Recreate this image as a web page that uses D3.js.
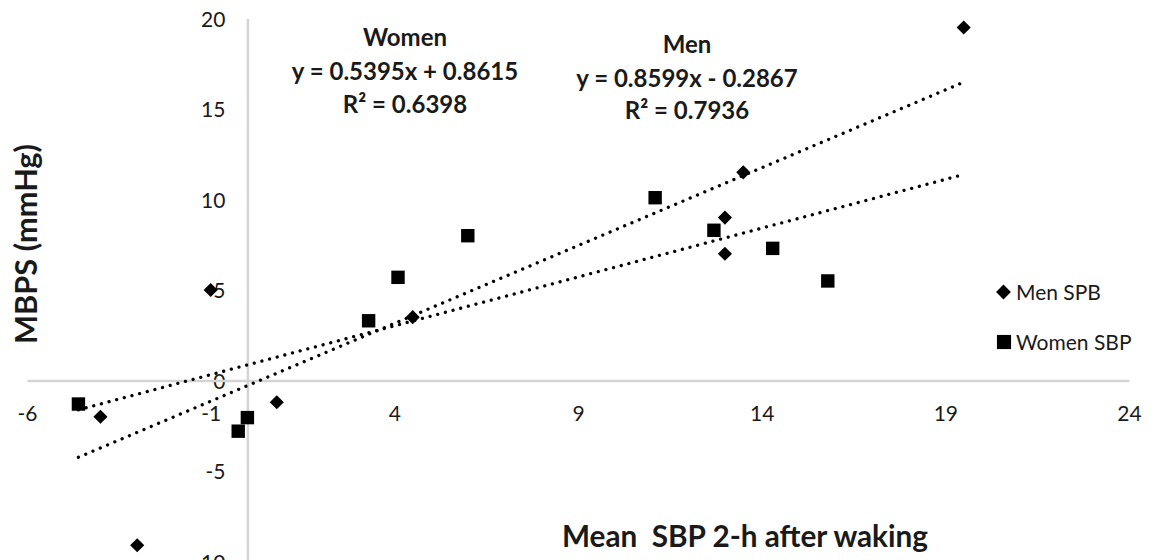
<!DOCTYPE html>
<html>
<head>
<meta charset="utf-8">
<script src="https://cdn.jsdelivr.net/npm/d3@7"></script>
<style>
  html, body { margin: 0; padding: 0; background: #fff; }
  svg { display: block; font-family: Lato, "Open Sans", sans-serif; }
</style>
</head>
<body>
<svg id="chart" width="1157" height="560"></svg>
<script>
// ---- data ----
const menX = [19.5, 13.5, 13, 13, 4.5, -1, 0.8, -4, -3];
const menY = [19.5, 11.5, 9, 7, 3.5, 5, -1.2, -2, -9.1];
const womenX = [11.1, 6, 12.7, 14.3, 15.8, 4.1, 3.3, 0, -0.25, -4.6];
const womenY = [10.1, 8, 8.3, 7.3, 5.5, 5.7, 3.3, -2.05, -2.8, -1.3];
const trendRange = [-4.6, 19.45];
const menFit = [0.8599, -0.2867];     // slope, intercept
const womenFit = [0.5395, 0.8615];
const xTicks = [-6, -1, 4, 9, 14, 19, 24];
const yTicks = [-10, -5, 0, 5, 10, 15, 20];
const seriesNames = ["Men SPB", "Women SBP"];
const womenNote = ["Women", "y = 0.5395x + 0.8615", "R² = 0.6398"];
const menNote = ["Men", "y = 0.8599x - 0.2867", "R² = 0.7936"];
const xTitle = "Mean\u00a0 SBP 2-h after waking";
const yTitle = "MBPS (mmHg)";

// ---- layout ----
const svg = d3.select("#chart");
const x = d3.scaleLinear().domain([-6, 24]).range([27, 1129]);
const y = d3.scaleLinear().domain([-10, 20]).range([561.5, 18.5]);
const axisColor = "#d4d4d4";
const textColor = "#1a1a1a";
const fmt = d => String(d);

// fit a text's font size so its rendered width matches a measured width
function fitWidth(sel, target) {
  const fs = parseFloat(sel.attr("font-size"));
  const w = sel.node().getComputedTextLength();
  if (w > 0) sel.attr("font-size", (fs * target / w).toFixed(2));
}

// axes crossing at zero
const yAxis = svg.append("g")
  .attr("transform", `translate(${x(0)},0)`)
  .call(d3.axisLeft(y).tickValues(yTicks).tickSize(0).tickPadding(22).tickFormat(fmt));
const xAxis = svg.append("g")
  .attr("transform", `translate(0,${y(0)})`)
  .call(d3.axisBottom(x).tickValues(xTicks).tickSize(0).tickFormat(fmt));
[xAxis, yAxis].forEach(g => {
  g.select(".domain").attr("stroke", axisColor).attr("stroke-width", 2.5);
  g.selectAll("text").attr("font-family", "Lato, sans-serif").attr("font-size", 21).attr("fill", textColor);
});
xAxis.selectAll("text").attr("y", 32.5).attr("dy", "0.36em");
yAxis.selectAll("text").attr("dy", "0.36em");

// markers
const diamond = d3.symbol().type(d3.symbolSquare).size(100);
const square = d3.symbol().type(d3.symbolSquare).size(180);
svg.append("g").selectAll("path").data(d3.range(menX.length)).join("path")
  .attr("d", diamond)
  .attr("transform", i => `translate(${x(menX[i])},${y(menY[i])}) rotate(45)`)
  .attr("fill", "#000");
svg.append("g").selectAll("path").data(d3.range(womenX.length)).join("path")
  .attr("d", square)
  .attr("transform", i => `translate(${x(womenX[i])},${y(womenY[i])})`)
  .attr("fill", "#000");

// trend lines (dotted)
const line = d3.line().x(d => x(d[0])).y(d => y(d[1]));
[menFit, womenFit].forEach(f => {
  svg.append("path")
    .attr("d", line(trendRange.map(v => [v, f[0] * v + f[1]])))
    .attr("fill", "none").attr("stroke", "#000")
    .attr("stroke-width", 3.3).attr("stroke-linecap", "round")
    .attr("stroke-dasharray", "0.01 7.9");
});

// annotations
function note(lines, cx, baselines) {
  svg.append("g").selectAll("text").data(lines).join("text")
    .attr("x", cx).attr("y", (d, i) => baselines[i])
    .attr("text-anchor", "middle").attr("font-weight", "bold")
    .attr("font-size", 24).attr("fill", textColor)
    .text(d => d);
}
note(womenNote, 405, [46, 80, 113]);
note(menNote, 687, [53, 87, 119]);

// axis titles
const xt = svg.append("text").attr("x", 745).attr("y", 547).attr("text-anchor", "middle")
  .attr("font-weight", "bold").attr("font-size", 28).attr("fill", textColor).text(xTitle);
fitWidth(xt, 366);
const yt = svg.append("text").attr("transform", "translate(37,244) rotate(-90)").attr("text-anchor", "middle")
  .attr("font-weight", "bold").attr("font-size", 28).attr("fill", textColor).text(yTitle);
fitWidth(yt, 200);

// legend
const legend = svg.append("g");
legend.append("path").attr("d", d3.symbol().type(d3.symbolSquare).size(110))
  .attr("transform", "translate(1003.5,292) rotate(45)").attr("fill", "#000");
legend.append("path").attr("d", d3.symbol().type(d3.symbolSquare).size(200))
  .attr("transform", "translate(1004,342)").attr("fill", "#000");
legend.selectAll("text").data(seriesNames).join("text")
  .attr("x", 1016).attr("y", (d, i) => 292 + i * 50).attr("dy", "0.36em")
  .attr("font-size", 21).attr("fill", textColor).text(d => d);
</script>
</body>
</html>
